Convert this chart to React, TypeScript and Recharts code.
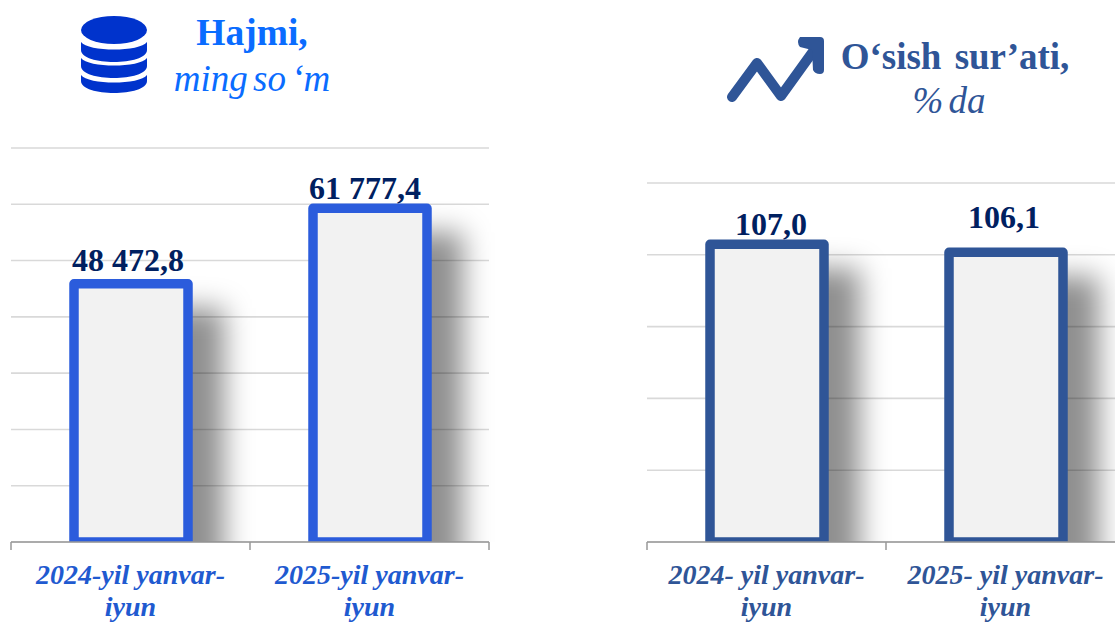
import React from 'react';
import { BarChart, Bar, XAxis, YAxis, CartesianGrid, LabelList } from 'recharts';

// Left panel: volume, thousand so'm
const volumeCategories = ['2024-yil yanvar-|iyun', '2025-yil yanvar-|iyun'];
const volumeValues = [48472.8, 61777.4];
const volumeLabels = ['48 472,8', '61 777,4'];
const volumeTicks = [3000, 12914, 22829, 32743, 42657, 52571, 62486, 72400];

// Right panel: growth rate, %
const growthCategories = ['2024- yil yanvar-|iyun', '2025- yil yanvar-|iyun'];
const growthValues = [107.0, 106.1];
const growthLabels = ['107,0', '106,1'];
const growthTicks = [73.5, 81.58, 89.66, 97.74, 105.82, 113.9];

const SERIF = '"Liberation Serif", serif';
const DATA_LABEL = '#002060';

const BarShape = (props: any) => {
    const { x, y, width, height, index, color, id } = props;
    const clipId = `${id}-clip-${index}`;
    const blurId = `${id}-blur-${index}`;
    return (
        <g>
            <defs>
                <clipPath id={clipId}>
                    <rect x={x - 20} y={y - 20} width={width + 200} height={height + 22} />
                </clipPath>
                <filter id={blurId} x="-60%" y="-30%" width="220%" height="160%">
                    <feGaussianBlur stdDeviation={14} />
                </filter>
            </defs>
            <g clipPath={`url(#${clipId})`}>
                <rect x={x + 36} y={y + 24} width={width} height={height + 40} fill="#000" fillOpacity={0.44} filter={`url(#${blurId})`} />
                <rect x={x} y={y} width={width} height={height} fill="#f2f2f2" stroke={color} strokeWidth={9.5} strokeLinejoin="round" />
            </g>
        </g>
    );
};

const CategoryTick = (props: any) => {
    const { x, y, payload, width, visibleTicksCount, index, color, fontSize } = props;
    const band = width / visibleTicksCount;
    const lines = String(payload.value).split('|');
    const top = y - 8;
    return (
        <g>
            <line x1={x - band / 2} x2={x - band / 2} y1={top} y2={top + 8} stroke="#999" strokeWidth={1.5} />
            {index === visibleTicksCount - 1 && (
                <line x1={x + band / 2} x2={x + band / 2} y1={top} y2={top + 8} stroke="#999" strokeWidth={1.5} />
            )}
            {lines.map((line, i) => (
                <text key={i} x={x} y={top + 42 + i * 32} textAnchor="middle" fontFamily={SERIF} fontWeight="bold" fontStyle="italic" fontSize={fontSize} fill={color}>
                    {line}
                </text>
            ))}
        </g>
    );
};

const ValueLabel = (props: any) => {
    const { x, y, width, index, texts, shiftX, shiftY } = props;
    return (
        <text x={x + width / 2 + shiftX[index]} y={y + shiftY[index]} textAnchor="middle" fontFamily={SERIF} fontWeight="bold" fontSize={32} fill={DATA_LABEL}>
            {texts[index]}
        </text>
    );
};

const Panel = ({ id, categories, values, labels, ticks, color, tickColor, tickSize, left, top, shiftX, shiftY }: any) => {
    const data = categories.map((name: string, i: number) => ({ name, value: values[i] }));
    return (
        <div style={{ position: 'absolute', left, top: 0 }}>
            <BarChart width={500} height={622} data={data} margin={{ top, right: 11, left: 11, bottom: 0 }}>
                <CartesianGrid horizontal vertical={false} stroke="#d9d9d9" strokeWidth={1.6} />
                <YAxis hide domain={[ticks[0], ticks[ticks.length - 1]]} ticks={ticks} allowDataOverflow />
                <XAxis
                    dataKey="name"
                    height={80}
                    interval={0}
                    tickLine={false}
                    axisLine={{ stroke: '#999', strokeWidth: 1.5 }}
                    tick={<CategoryTick color={tickColor} fontSize={tickSize} />}
                />
                <Bar dataKey="value" barSize={114} isAnimationActive={false} shape={<BarShape color={color} id={id} />}>
                    <LabelList dataKey="value" content={<ValueLabel texts={labels} shiftX={shiftX} shiftY={shiftY} />} />
                </Bar>
            </BarChart>
        </div>
    );
};

const App: React.FC = () => {
    return (
        <div style={{ position: 'absolute', left: 0, top: 0, width: 1115, height: 622, overflow: 'hidden', background: '#fff' }}>
            <Panel
                id="volume"
                categories={volumeCategories}
                values={volumeValues}
                labels={volumeLabels}
                ticks={volumeTicks}
                color="#2b5cdc"
                tickColor="#1f5ad0"
                tickSize={28}
                left={0}
                top={148}
                shiftX={[-3, -5]}
                shiftY={[-13, -9]}
            />
            <Panel
                id="growth"
                categories={growthCategories}
                values={growthValues}
                labels={growthLabels}
                ticks={growthTicks}
                color="#2f5597"
                tickColor="#2f5597"
                tickSize={28}
                left={636}
                top={183}
                shiftX={[4, -2]}
                shiftY={[-9, -24]}
            />
            <svg width={1115} height={140} style={{ position: 'absolute', left: 0, top: 0 }}>
                {/* database icon */}
                <g fill="#0033cc">
                    <ellipse cx={114} cy={30} rx={33} ry={14} />
                    <path d="M81 42 C88 52 140 52 147 42 V50 C147 66 81 66 81 50 Z" />
                    <path d="M81 58 C88 68 140 68 147 58 V66 C147 82 81 82 81 66 Z" />
                    <path d="M81 75 C88 85 140 85 147 75 V81 C147 97 81 97 81 81 Z" />
                </g>
                <text x={252} y={45} textAnchor="middle" fontFamily={SERIF} fontWeight="bold" fontSize={37.5} fill="#0a6cff">Hajmi,</text>
                <text x={252} y={91} textAnchor="middle" fontFamily={SERIF} fontStyle="italic" fontSize={37} wordSpacing={-4} fill="#0a6cff">ming so ‘m</text>

                {/* trend icon */}
                <g fill="none" stroke="#2f5597" strokeWidth={10} strokeLinecap="round" strokeLinejoin="round">
                    <polyline points="732,97 757,63 781,96 817,46" />
                </g>
                <path d="M800 37 H820 Q824 37 824 41 V70 Q824 74 820 74 Q815 74 813 70 L812 50 L800 47 Q796 42 800 37 Z" fill="#2f5597" />
                <text x={955} y={69} textAnchor="middle" fontFamily={SERIF} fontWeight="bold" fontSize={37} wordSpacing={4} fill="#2f5597">O‘sish sur’ati,</text>
                <text x={949} y={113} textAnchor="middle" fontFamily={SERIF} fontStyle="italic" fontSize={37} wordSpacing={-4} fill="#2f5597">% da</text>
            </svg>
        </div>
    );
};

export default App;
